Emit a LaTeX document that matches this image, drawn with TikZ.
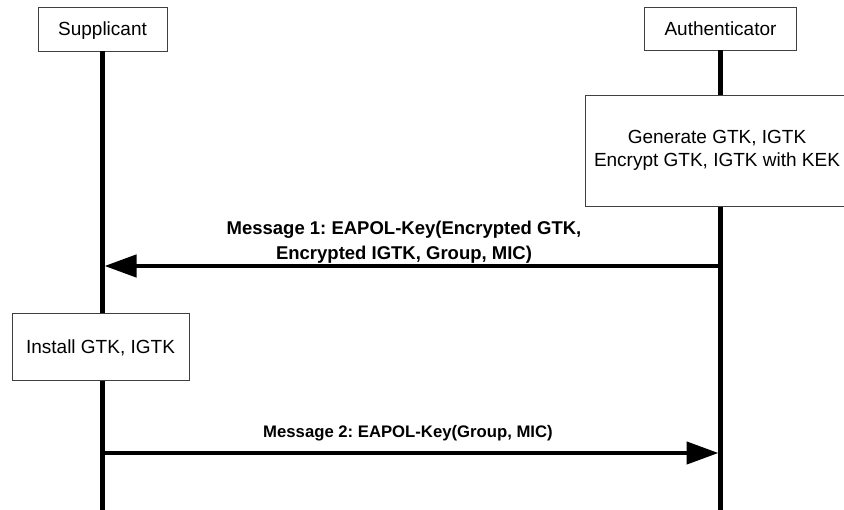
\documentclass[tikz,border=0pt]{standalone}
\usepackage{fontspec}
\setmainfont{Liberation Sans}
\usetikzlibrary{arrows.meta}
\frenchspacing
\begin{document}
\begin{tikzpicture}[x=1pt,y=-1pt,
  box/.style={draw=black!75, line width=0.9pt, fill=white, inner sep=0pt, align=center, font=\fontsize{19}{22.5}\selectfont},
  onebox/.style={box, text height=13.6pt, text depth=0pt},
  life/.style={line width=4.5pt},
  msg/.style={line width=4.5pt, -{Triangle[length=32pt,width=22pt]}, shorten >=2pt},
  lbl/.style={inner sep=0pt, align=center, font=\bfseries\fontsize{18.5}{25}\selectfont},
  lbltwo/.style={inner sep=0pt, align=center, font=\bfseries\fontsize{16.7}{20}\selectfont}]
\useasboundingbox (0,0) rectangle (844,510);
\clip (0,0) rectangle (844,510);
% actors
\node[onebox, minimum width=129pt, minimum height=44pt] (sup) at (102.5,29) {Supplicant};
\node[onebox, minimum width=152pt, minimum height=43pt] (auth) at (720.5,28.5) {Authenticator};
% lifelines
\coordinate (supend) at (sup.south |- 0,512);
\coordinate (authend) at (auth.south |- 0,512);
\draw[life] (sup.south) -- (supend);
\draw[life] (auth.south) -- (authend);
% process boxes
\node[box, minimum width=264pt, minimum height=111pt] (gen) at (717,150.5) {Generate GTK, IGTK\\Encrypt GTK, IGTK with KEK};
\node[onebox, minimum width=177pt, minimum height=67pt] (inst) at (100.5,346.5) {Install GTK, IGTK};
% messages
\coordinate (m1a) at (auth.south |- 0,266);
\coordinate (m1s) at (sup.south |- 0,266);
\draw[msg] (m1a) -- (m1s);
\node[lbl] (l1) at (404,242.5) {Message 1: EAPOL-Key(Encrypted GTK,\\Encrypted IGTK, Group, MIC)};
\coordinate (m2s) at (sup.south |- 0,453);
\coordinate (m2a) at (auth.south |- 0,453);
\draw[msg] (m2s) -- (m2a);
\node[lbltwo, anchor=base] (l2) at (408,437.7) {Message 2: EAPOL-Key(Group, MIC)};
\end{tikzpicture}
\end{document}
